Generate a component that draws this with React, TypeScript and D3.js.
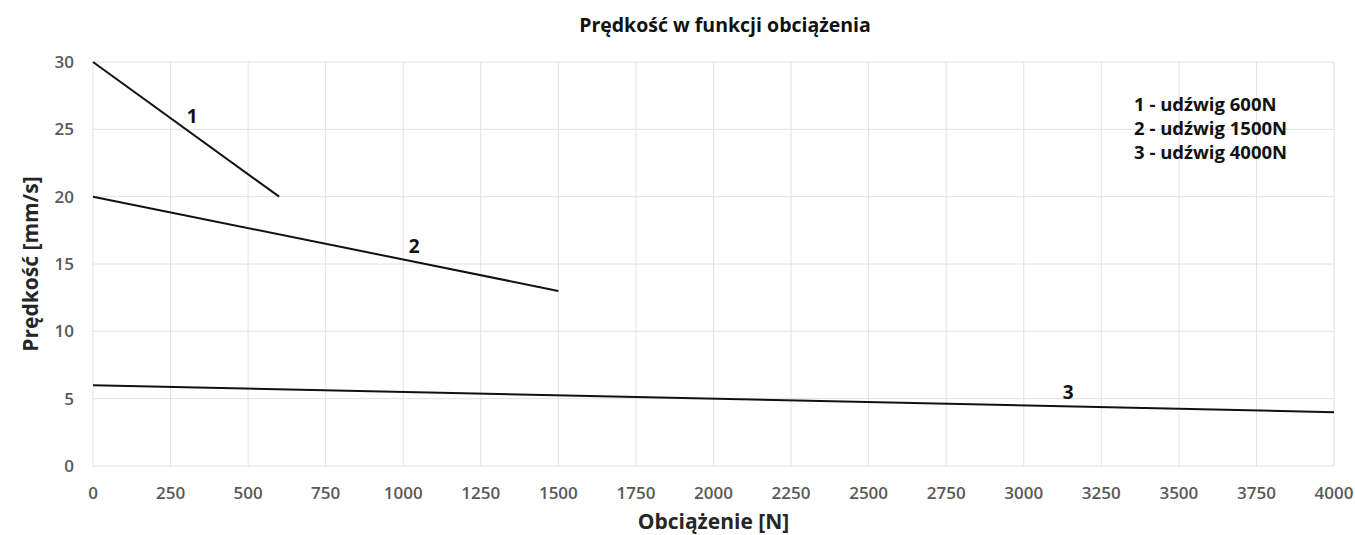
import { useEffect, useRef } from 'react';
import * as d3 from 'd3';

const xTicks = d3.range(0, 4001, 250);
const yTicks = [0, 5, 10, 15, 20, 25, 30];

const series1 = [
  { load: 0, speed: 30 },
  { load: 600, speed: 20 },
];
const series2 = [
  { load: 0, speed: 20 },
  { load: 1500, speed: 13 },
];
const series3 = [
  { load: 0, speed: 6 },
  { load: 4000, speed: 4 },
];

const lineLabels = [
  { text: '1', load: 320, speed: 25.45 },
  { text: '2', load: 1035, speed: 15.85 },
  { text: '3', load: 3143, speed: 4.95 },
];

const legendItems = ['1 - udźwig 600N', '2 - udźwig 1500N', '3 - udźwig 4000N'];

const W = 1355;
const H = 535;
const margin = { top: 62, right: 21, bottom: 69, left: 93 };
const FONT = '"Open Sans", "Noto Sans", sans-serif';

export default function App() {
  const svgRef = useRef<SVGSVGElement>(null);

  useEffect(() => {
    if (!svgRef.current) return;
    const svg = d3.select(svgRef.current);
    svg.selectAll('*').remove();

    const x = d3.scaleLinear().domain([0, 4000]).range([margin.left, W - margin.right]);
    const y = d3.scaleLinear().domain([0, 30]).range([H - margin.bottom, margin.top]);

    // grid
    const grid = svg.append('g').attr('stroke', '#e2e2e2').attr('stroke-width', 1);
    xTicks.forEach((t) => {
      grid
        .append('line')
        .attr('x1', x(t))
        .attr('x2', x(t))
        .attr('y1', y(0))
        .attr('y2', y(30));
    });
    yTicks.forEach((t) => {
      grid
        .append('line')
        .attr('x1', x(0))
        .attr('x2', x(4000))
        .attr('y1', y(t))
        .attr('y2', y(t));
    });

    // tick labels
    svg
      .append('g')
      .selectAll('text')
      .data(xTicks)
      .join('text')
      .attr('x', (d) => x(d))
      .attr('y', y(0) + 33)
      .attr('text-anchor', 'middle')
      .attr('font-family', FONT)
      .attr('font-size', 17)
      .attr('font-weight', 600)
      .attr('fill', '#595959')
      .text((d) => d);

    svg
      .append('g')
      .selectAll('text')
      .data(yTicks)
      .join('text')
      .attr('x', x(0) - 19)
      .attr('y', (d) => y(d))
      .attr('dy', '0.35em')
      .attr('text-anchor', 'end')
      .attr('font-family', FONT)
      .attr('font-size', 17)
      .attr('font-weight', 600)
      .attr('fill', '#595959')
      .text((d) => d);

    // lines
    const line = d3
      .line<{ load: number; speed: number }>()
      .x((d) => x(d.load))
      .y((d) => y(d.speed));

    [series1, series2, series3].forEach((s) => {
      svg
        .append('path')
        .datum(s)
        .attr('d', line)
        .attr('fill', 'none')
        .attr('stroke', '#111')
        .attr('stroke-width', 2);
    });

    // line labels
    lineLabels.forEach((l) => {
      svg
        .append('text')
        .attr('x', x(l.load))
        .attr('y', y(l.speed))
        .attr('text-anchor', 'middle')
        .attr('font-family', FONT)
        .attr('font-size', 19)
        .attr('font-weight', 700)
        .attr('fill', '#111')
        .text(l.text);
    });

    // legend
    const legend = svg.append('g').attr('transform', `translate(1134, 111)`);
    legend
      .selectAll('text')
      .data(legendItems)
      .join('text')
      .attr('x', 0)
      .attr('y', (_, i) => i * 24)
      .attr('font-family', FONT)
      .attr('font-size', 18.5)
      .attr('font-weight', 700)
      .attr('fill', '#111')
      .text((d) => d);

    // title
    svg
      .append('text')
      .attr('x', 725)
      .attr('y', 32)
      .attr('text-anchor', 'middle')
      .attr('font-family', FONT)
      .attr('font-size', 19.5)
      .attr('font-weight', 700)
      .attr('fill', '#111')
      .text('Prędkość w funkcji obciążenia');

    // axis titles
    svg
      .append('text')
      .attr('x', (x(0) + x(4000)) / 2)
      .attr('y', 529)
      .attr('text-anchor', 'middle')
      .attr('font-family', FONT)
      .attr('font-size', 21)
      .attr('font-weight', 700)
      .attr('fill', '#262626')
      .text('Obciążenie [N]');

    svg
      .append('text')
      .attr('transform', `translate(38, ${(y(0) + y(30)) / 2}) rotate(-90)`)
      .attr('text-anchor', 'middle')
      .attr('font-family', FONT)
      .attr('font-size', 21)
      .attr('font-weight', 700)
      .attr('fill', '#262626')
      .text('Prędkość [mm/s]');
  }, []);

  return (
    <svg
      ref={svgRef}
      width={W}
      height={H}
      viewBox={`0 0 ${W} ${H}`}
      style={{ position: 'absolute', left: 0, top: 0, background: '#fff' }}
    />
  );
}
